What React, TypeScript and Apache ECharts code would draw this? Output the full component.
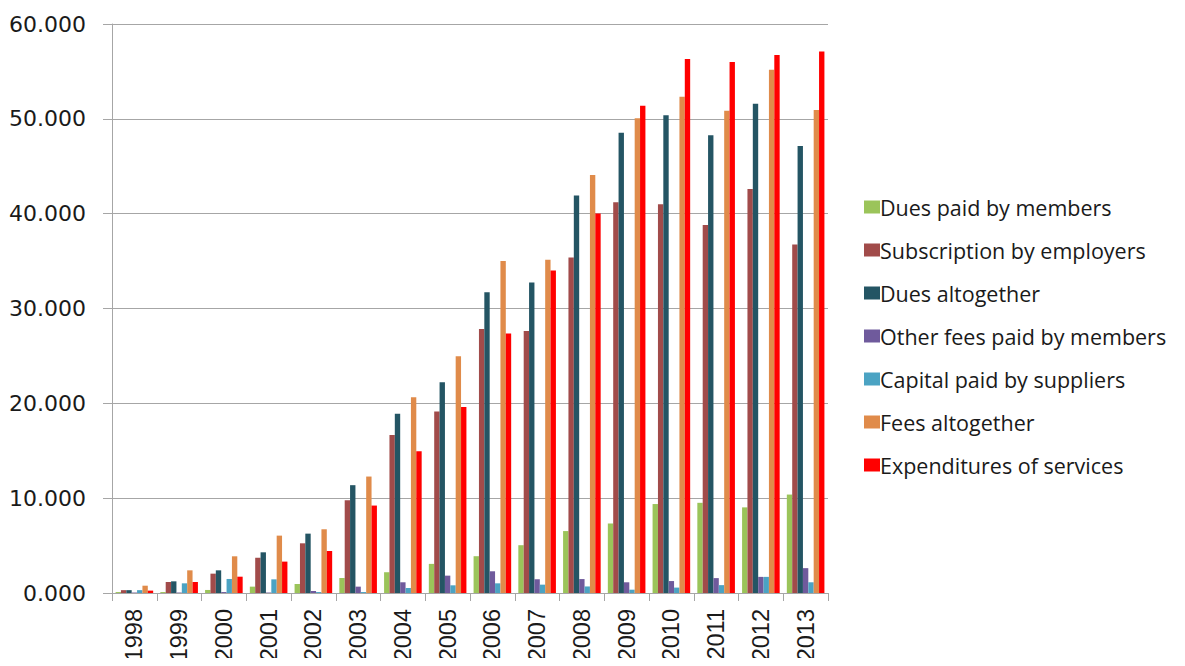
import React, { useEffect, useRef } from "react";
import * as echarts from "echarts";

const years = ["1998","1999","2000","2001","2002","2003","2004","2005","2006","2007","2008","2009","2010","2011","2012","2013"];

const duesPaidByMembers = [100, 100, 320, 670, 950, 1580, 2190, 3070, 3880, 5040, 6530, 7330, 9380, 9510, 9030, 10380];
const subscriptionByEmployers = [300, 1160, 2040, 3730, 5240, 9780, 16650, 19150, 27830, 27620, 35370, 41210, 40990, 38810, 42610, 36760];
const duesAltogether = [300, 1230, 2390, 4290, 6260, 11370, 18900, 22220, 31710, 32730, 41910, 48540, 50370, 48280, 51590, 47140];
const otherFeesPaidByMembers = [50, 50, 100, 50, 210, 670, 1130, 1830, 2290, 1450, 1470, 1130, 1260, 1570, 1700, 2620];
const capitalPaidBySuppliers = [300, 1020, 1480, 1440, 100, 100, 530, 810, 1020, 880, 690, 350, 570, 830, 1700, 1130];
const feesAltogether = [770, 2390, 3870, 6050, 6720, 12280, 20630, 24970, 35020, 35130, 44090, 50060, 52330, 50850, 55170, 50940];
const expendituresOfServices = [250, 1160, 1720, 3310, 4430, 9220, 14950, 19610, 27370, 34000, 40030, 51370, 56300, 56000, 56740, 57090];

const seriesNames = [
  "Dues paid by members",
  "Subscription by employers",
  "Dues altogether",
  "Other fees paid by members",
  "Capital paid by suppliers",
  "Fees altogether",
  "Expenditures of services",
];
const seriesData = [
  duesPaidByMembers,
  subscriptionByEmployers,
  duesAltogether,
  otherFeesPaidByMembers,
  capitalPaidBySuppliers,
  feesAltogether,
  expendituresOfServices,
];
const colors = ["#9BC45A", "#A14B4A", "#245564", "#6F5A9C", "#4BA3C3", "#E08B4A", "#FF0000"];

export default function App() {
  const ref = useRef<HTMLDivElement>(null);
  useEffect(() => {
    if (!ref.current) return;
    const chart = echarts.init(ref.current, null, { renderer: "svg" });
    chart.setOption({
      animation: false,
      backgroundColor: "#ffffff",
      color: colors,
      grid: { left: 112, right: 357, top: 24, bottom: 73, containLabel: false, outerBoundsMode: "none" },
      legend: {
        orient: "vertical",
        left: 859,
        top: 191,
        icon: "rect",
        itemWidth: 16,
        itemHeight: 13,
        itemGap: 21,
        textStyle: { fontFamily: "Open Sans", fontSize: 21.5, color: "#1a1a1a", lineHeight: 22, padding: [0, 0, 0, -5] },
        data: seriesNames,
      },
      xAxis: {
        type: "category",
        data: years,
        boundaryGap: true,
        axisLine: { show: true, lineStyle: { color: "#A6A6A6", width: 1 } },
        axisTick: { show: true, alignWithLabel: false, length: 8, lineStyle: { color: "#A6A6A6" } },
        axisLabel: {
          fontFamily: "Liberation Sans",
          fontSize: 23.5,
          color: "#1a1a1a",
          rotate: 90,
          margin: 16,
          interval: 0,
        },
      },
      yAxis: {
        type: "value",
        min: 0,
        max: 60000,
        interval: 10000,
        axisLine: { show: true, lineStyle: { color: "#A6A6A6", width: 1 } },
        axisTick: { show: true, length: 9, lineStyle: { color: "#A6A6A6" } },
        splitLine: { show: true, lineStyle: { color: "#A6A6A6", width: 1 } },
        axisLabel: {
          fontFamily: "DejaVu Sans",
          fontSize: 22,
          color: "#1a1a1a",
          margin: 26,
          formatter: (v: number) => (v / 1000).toFixed(3),
        },
      },
      series: seriesNames.map((name, i) => ({
        name,
        type: "bar",
        data: seriesData[i],
        barGap: "0%",
        barCategoryGap: "16%",
        itemStyle: { color: colors[i] },
      })),
    });
    return () => chart.dispose();
  }, []);
  return <div ref={ref} style={{ width: 1185, height: 666, margin: -8 }} />;
}
